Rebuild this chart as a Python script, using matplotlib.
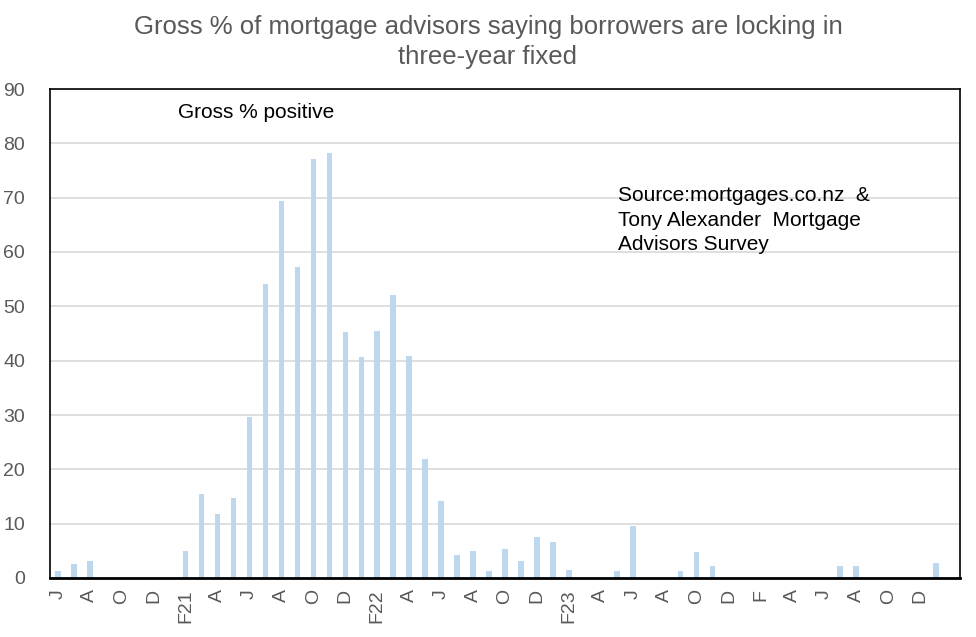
import matplotlib.pyplot as plt

# monthly, Jun 2020 .. Feb 2025 (57 categories), 0 = no bar
values = [1.25, 2.5, 3.2, 0, 0, 0, 0, 0,
          5.0, 15.4, 11.8, 14.7, 29.7, 54.2, 69.3, 57.2, 77.1, 78.2,
          45.2, 40.6, 45.4, 52.0, 40.8, 21.9, 14.2, 4.2, 5.0, 1.3,
          5.25, 3.2, 7.6, 6.7, 1.55, 0, 0, 1.35, 9.5, 0, 0, 1.2,
          4.7, 2.3, 0, 0, 0, 0, 0, 0, 0, 2.3, 2.3, 0, 0, 0, 0, 2.85, 0]
tick_labels = ["J", "A", "O", "D", "F21", "A", "J", "A", "O", "D",
               "F22", "A", "J", "A", "O", "D", "F23", "A", "J", "A",
               "O", "D", "F", "A", "J", "A", "O", "D", ""]

title = "Gross % of mortgage advisors saying borrowers are locking in\nthree-year fixed"
bar_color = "#BDD7EE"
grey = "#595959"

plt.rcParams['font.family'] = ['Liberation Sans', 'DejaVu Sans']

W, H = 976, 637
fig = plt.figure(figsize=(W / 100, H / 100), dpi=100, facecolor='white')
ax = fig.add_axes([50 / W, 59 / H, 910 / W, 489 / H])

x = list(range(len(values)))
ax.bar(x, values, width=0.35, color=bar_color, linewidth=0, zorder=2)

ax.set_xlim(-0.5, len(values) - 0.5)
ax.set_ylim(0, 90)
ax.set_yticks(range(0, 91, 10))
ax.yaxis.grid(True, color="#D9D9D9", linewidth=1.2, zorder=0)
ax.set_axisbelow(True)

ax.set_xticks(range(0, len(values), 2))
ax.set_xticklabels(tick_labels, rotation=90)
ax.tick_params(axis='both', length=0, labelsize=14, labelcolor=grey)
ax.tick_params(axis='x', pad=8)
ax.tick_params(axis='y', pad=18)

for side in ['top', 'right', 'left']:
    ax.spines[side].set_color('black')
    ax.spines[side].set_linewidth(1.2)
ax.spines['bottom'].set_linewidth(2)

fig.text(0.5, 1 - 15 / H, title, ha='center', va='top', fontsize=18.5,
         color=grey, linespacing=1.3)

fig.text(178 / W, 1 - 112 / H, "Gross % positive",
         ha='left', va='center', fontsize=15, color='black')
fig.text(618 / W, 1 - 186 / H, "Source:mortgages.co.nz  &\nTony Alexander  Mortgage\nAdvisors Survey",
         ha='left', va='top', fontsize=15, color='black', linespacing=1.38)

fig.savefig("out.png", dpi=100)
